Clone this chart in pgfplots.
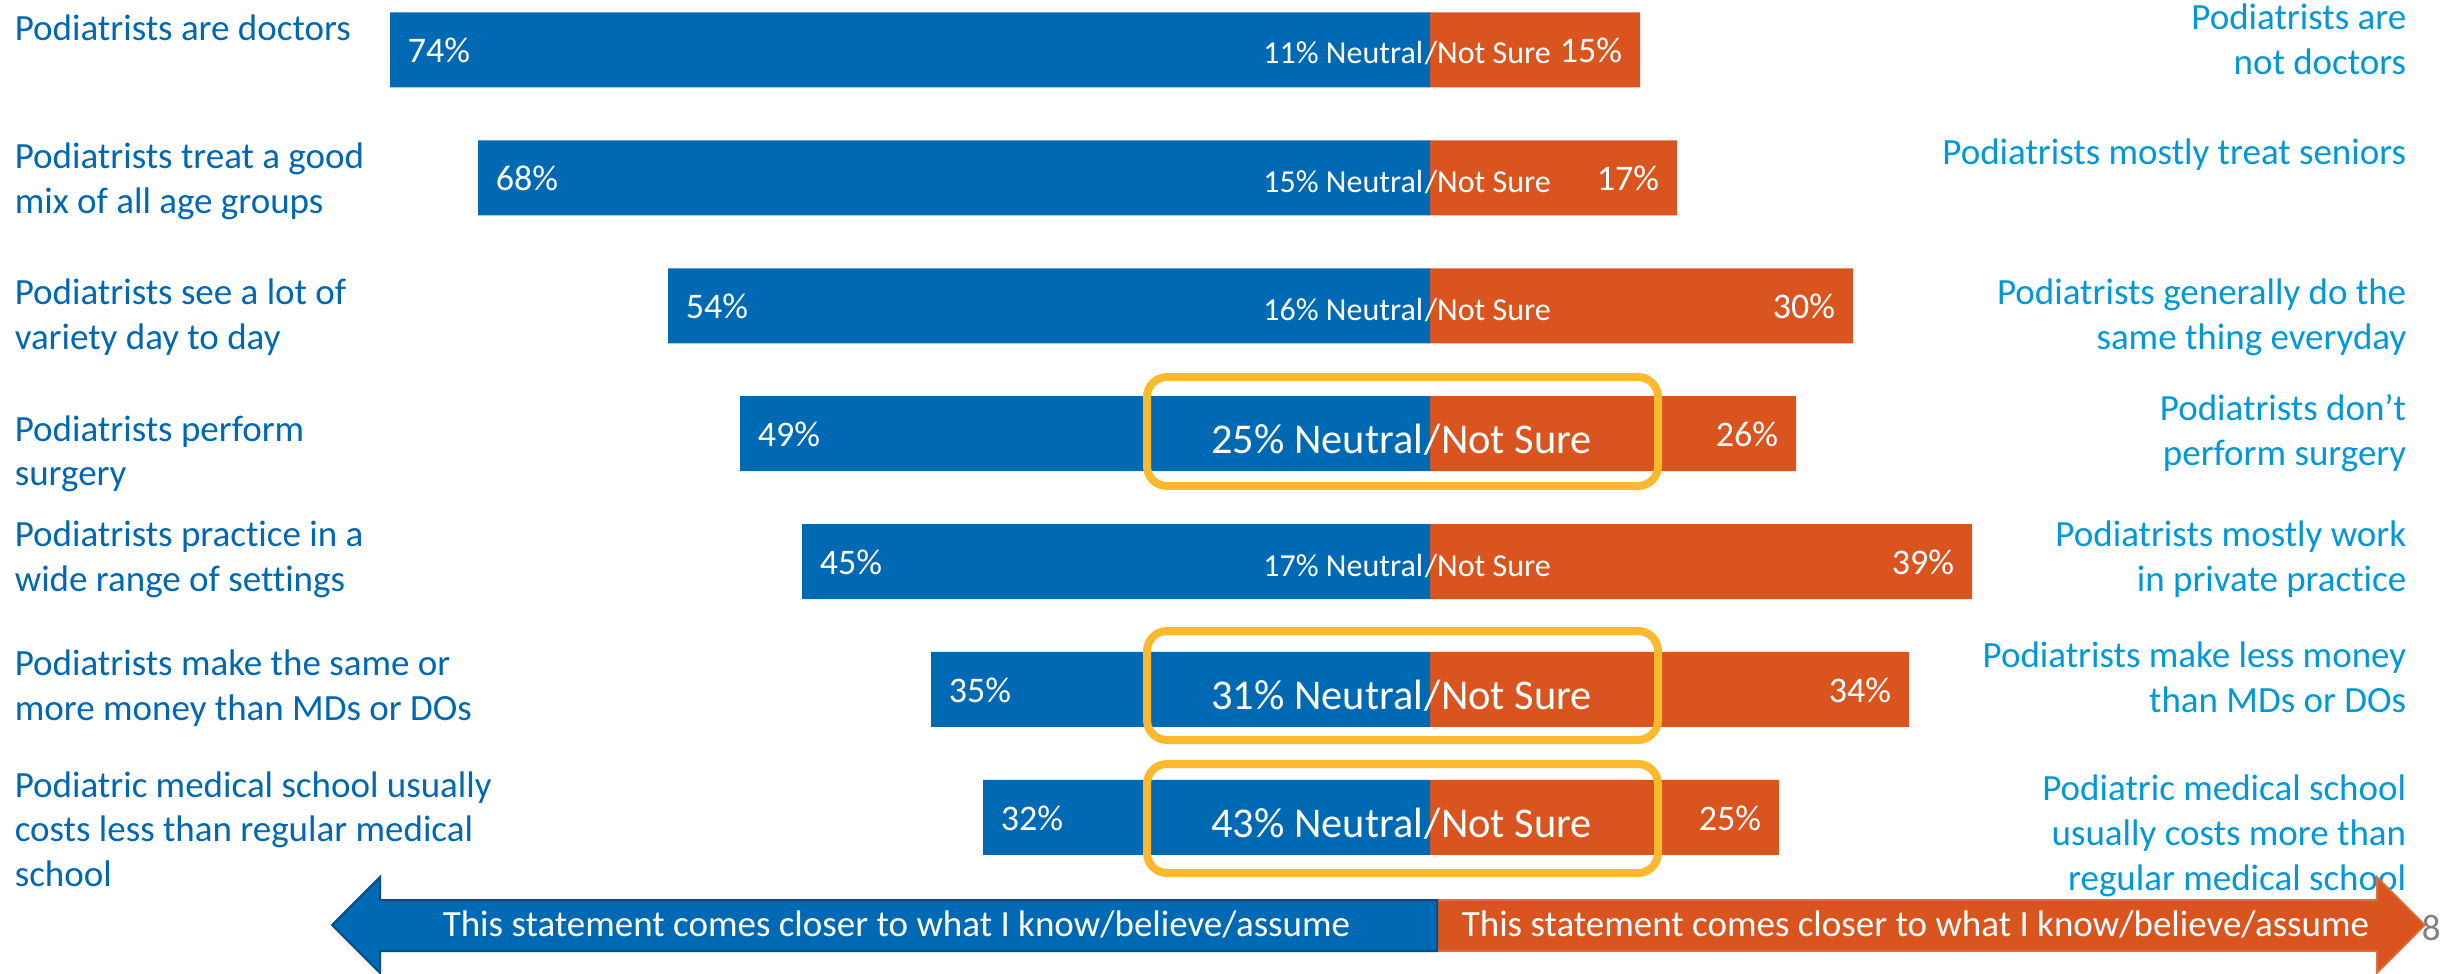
\documentclass[border=0pt]{standalone}
\usepackage{fontspec}
\setmainfont{Carlito}[Ligatures=NoCommon]
\usepackage{pgfplots}
\usepackage{pgfplotstable}
\pgfplotsset{compat=1.18}

\definecolor{barblue}{RGB}{0,105,180}
\definecolor{barorange}{RGB}{217,84,31}
\definecolor{lblblue}{RGB}{0,104,178}
\definecolor{rblue}{RGB}{0,152,216}
\definecolor{boxyellow}{RGB}{253,185,46}
\definecolor{arrowedge}{RGB}{0,78,140}

% 1 unit = one pixel of the reference; fonts sized to match
\newcommand\lblfont{\fontsize{9.25}{11}\selectfont}
\newcommand\pctfont{\fontsize{9}{11}\selectfont}
\newcommand\smallfont{\fontsize{8}{9}\selectfont}
\newcommand\bigfont{\fontsize{10.6}{12}\selectfont}

% bar rows: centre y, left edge, split, right edge (as drawn), survey percentages
\pgfplotstableread{
y     left  mid   right  pl  pn  pr
49.8  390   1430  1640   74  11  15
177.8 478   1430  1677   68  15  17
305.8 668   1430  1853   54  16  30
433.5 740   1430  1796   49  25  26
561.5 802   1430  1972   45  17  39
689.3 931   1430  1909   35  31  34
817.3 983   1430  1779   32  43  25
}\rows

\pgfplotsset{frame/.style={width=614pt, height=243.5pt, scale only axis,
  xmin=0, xmax=2456, ymin=0, ymax=974, y dir=reverse, hide axis, clip=false}}

\newcommand\ltext[2]{\node[anchor=base west, inner sep=0pt, text=lblblue, font=\lblfont] at (axis cs:14,#1) {#2};}
\newcommand\rtext[2]{\node[anchor=base east, inner sep=0pt, text=rblue, font=\lblfont] at (axis cs:2407,#1) {#2};}

\begin{document}
\begin{tikzpicture}
% bars
\begin{axis}[frame, xbar stacked, bar width=75]
\path (rel axis cs:0,0) rectangle (rel axis cs:1,1);
\addplot[draw=none, fill=none] table[x=left, y=y]{\rows};
\addplot[draw=none, fill=barblue] table[x expr=\thisrow{mid}-\thisrow{left}, y=y]{\rows};
\addplot[draw=none, fill=barorange] table[x expr=\thisrow{right}-\thisrow{mid}, y=y]{\rows};
\end{axis}

% labels, highlight boxes, arrows
\begin{axis}[frame]
\addplot[draw=none, mark=none, point meta=explicit symbolic,
  nodes near coords={\pgfplotspointmeta\%},
  every node near coord/.append style={anchor=base west, inner sep=0pt, text=white, font=\pctfont}]
  table[x expr=\thisrow{left}+17, y expr=\thisrow{y}+13, meta=pl]{\rows};
\addplot[draw=none, mark=none, point meta=explicit symbolic,
  nodes near coords={\pgfplotspointmeta\%},
  every node near coord/.append style={anchor=base east, inner sep=0pt, text=white, font=\pctfont}]
  table[x expr=\thisrow{right}-17, y expr=\thisrow{y}+13, meta=pr]{\rows};

% neutral share, small
\addplot[draw=none, mark=none, point meta=explicit symbolic,
  nodes near coords={\pgfplotspointmeta\% Neutral},
  every node near coord/.append style={anchor=base east, inner sep=0pt, text=white, font=\smallfont}]
  coordinates {(1424,64) [11] (1424,192) [15] (1424,320) [16] (1424,576) [17]};
\addplot[draw=none, mark=none, point meta=explicit symbolic,
  nodes near coords={/Not Sure},
  every node near coord/.append style={anchor=base west, inner sep=0pt, text=white, font=\smallfont}]
  coordinates {(1424,64) [a] (1424,192) [a] (1424,320) [a] (1424,576) [a]};
% neutral share, large
\addplot[draw=none, mark=none, point meta=explicit symbolic,
  nodes near coords={\pgfplotspointmeta\% Neutral},
  every node near coord/.append style={anchor=base east, inner sep=0pt, text=white, font=\bigfont}]
  coordinates {(1424,453) [25] (1424,709) [31] (1424,837) [43]};
\addplot[draw=none, mark=none, point meta=explicit symbolic,
  nodes near coords={/Not Sure},
  every node near coord/.append style={anchor=base west, inner sep=0pt, text=white, font=\bigfont}]
  coordinates {(1424,453) [a] (1424,709) [a] (1424,837) [a]};

% yellow highlight boxes
\draw[boxyellow, line width=2pt, rounded corners=5pt] (axis cs:1147,377) rectangle (axis cs:1658,486);
\draw[boxyellow, line width=2pt, rounded corners=5pt] (axis cs:1147,631) rectangle (axis cs:1658,740);
\draw[boxyellow, line width=2pt, rounded corners=5pt] (axis cs:1147,764) rectangle (axis cs:1658,873);

% statements on the left
\ltext{40}{Podiatrists are doctors}
\ltext{168}{Podiatrists treat a good}
\ltext{213}{mix of all age groups}
\ltext{304}{Podiatrists see a lot of}
\ltext{349}{variety day to day}
\ltext{441}{Podiatrists perform}
\ltext{485}{surgery}
\ltext{546}{Podiatrists practice in a}
\ltext{591}{wide range of settings}
\ltext{675}{Podiatrists make the same or}
\ltext{720}{more money than MDs or DOs}
\ltext{797}{Podiatric medical school usually}
\ltext{841}{costs less than regular medical}
\ltext{886}{school}

% statements on the right
\rtext{30}{Podiatrists are}
\rtext{75}{not doctors}
\rtext{165}{Podiatrists mostly treat seniors}
\rtext{304}{Podiatrists generally do the}
\rtext{349}{same thing everyday}
\rtext{420}{Podiatrists don’t}
\rtext{465}{perform surgery}
\rtext{546}{Podiatrists mostly work}
\rtext{591}{in private practice}
\rtext{667}{Podiatrists make less money}
\rtext{712}{than MDs or DOs}
\rtext{800}{Podiatric medical school}
\rtext{845}{usually costs more than}
\rtext{890}{regular medical school}

% direction arrows
\fill[barorange, draw=barorange!85!white, line width=0.4pt]
  (axis cs:1437,900) -- (axis cs:2377,900) -- (axis cs:2377,877) -- (axis cs:2425,925)
  -- (axis cs:2377,973) -- (axis cs:2377,951) -- (axis cs:1437,951) -- cycle;
\fill[barblue, draw=arrowedge, line width=0.5pt]
  (axis cs:332,925) -- (axis cs:380,877) -- (axis cs:380,900) -- (axis cs:1437,900)
  -- (axis cs:1437,951) -- (axis cs:380,951) -- (axis cs:380,973) -- cycle;
\node[anchor=base west, inner sep=0pt, text=white, font=\lblfont] at (axis cs:442,936)
  {This statement comes closer to what I know/believe/assume};
\node[anchor=base west, inner sep=0pt, text=white, font=\lblfont] at (axis cs:1461,936)
  {This statement comes closer to what I know/believe/assume};
\node[anchor=base west, inner sep=0pt, text=gray, font=\lblfont] at (axis cs:2421,940) {8};
\end{axis}
\end{tikzpicture}
\end{document}
